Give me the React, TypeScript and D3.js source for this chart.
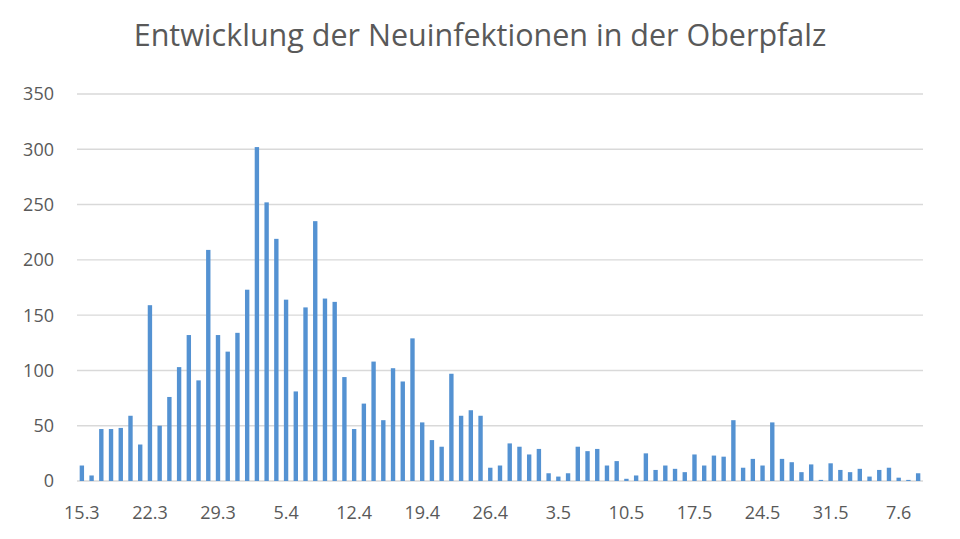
import React, { useRef, useEffect } from "react";
import * as d3 from "d3";

const title = "Entwicklung der Neuinfektionen in der Oberpfalz";

// one category per day, 15.3 to 9.6
const days = [
  "15.3", "16.3", "17.3", "18.3", "19.3", "20.3", "21.3", "22.3", "23.3", "24.3",
  "25.3", "26.3", "27.3", "28.3", "29.3", "30.3", "31.3",
  "1.4", "2.4", "3.4", "4.4", "5.4", "6.4", "7.4", "8.4", "9.4", "10.4",
  "11.4", "12.4", "13.4", "14.4", "15.4", "16.4", "17.4", "18.4", "19.4", "20.4",
  "21.4", "22.4", "23.4", "24.4", "25.4", "26.4", "27.4", "28.4", "29.4", "30.4",
  "1.5", "2.5", "3.5", "4.5", "5.5", "6.5", "7.5", "8.5", "9.5", "10.5",
  "11.5", "12.5", "13.5", "14.5", "15.5", "16.5", "17.5", "18.5", "19.5", "20.5",
  "21.5", "22.5", "23.5", "24.5", "25.5", "26.5", "27.5", "28.5", "29.5", "30.5", "31.5",
  "1.6", "2.6", "3.6", "4.6", "5.6", "6.6", "7.6", "8.6", "9.6",
];

const newCases = [
  14, 5, 47, 47, 48, 59, 33, 159, 50, 76, 103, 132, 91, 209, 132, 117, 134,
  173, 302, 252, 219, 164, 81, 157, 235, 165, 162, 94, 47, 70, 108, 55, 102, 90,
  129, 53, 37, 31, 97, 59, 64, 59, 12, 14, 34, 31, 24,
  29, 7, 4, 7, 31, 27, 29, 14, 18, 2, 5, 25, 10, 14, 11, 8, 24, 14, 23, 22, 55,
  12, 20, 14, 53, 20, 17, 8, 15, 1, 16,
  10, 8, 11, 4, 10, 12, 3, 1, 7,
];

const xTickLabels = [
  "15.3", "22.3", "29.3", "5.4", "12.4", "19.4", "26.4",
  "3.5", "10.5", "17.5", "24.5", "31.5", "7.6",
];

const yTicks = [0, 50, 100, 150, 200, 250, 300, 350];

const W = 960;
const H = 539;
const textColor = "#595959";
const font = "'Open Sans', 'Noto Sans', sans-serif";

const App: React.FC = () => {
  const svgRef = useRef<SVGSVGElement | null>(null);

  useEffect(() => {
    if (!svgRef.current) return;
    const svg = d3.select(svgRef.current);
    svg.selectAll("*").remove();

    const x = d3
      .scaleBand()
      .domain(days)
      .range([77, 923])
      .paddingInner(0.55)
      .paddingOuter(0.275);
    const y = d3.scaleLinear().domain([0, 350]).range([481, 94]);

    svg.append("rect").attr("width", W).attr("height", H).attr("fill", "#fff");

    svg
      .append("text")
      .attr("x", 480)
      .attr("y", 46)
      .attr("text-anchor", "middle")
      .attr("fill", textColor)
      .style("font-family", font)
      .style("font-size", "30.5px")
      .text(title);

    // gridlines
    svg
      .selectAll(".grid")
      .data(yTicks)
      .enter()
      .append("line")
      .attr("x1", 77)
      .attr("x2", 923)
      .attr("y1", (d) => y(d))
      .attr("y2", (d) => y(d))
      .attr("stroke", "#d9d9d9")
      .attr("stroke-width", 1.4);

    svg
      .selectAll(".ylab")
      .data(yTicks)
      .enter()
      .append("text")
      .attr("x", 54)
      .attr("y", (d) => y(d))
      .attr("dy", "0.36em")
      .attr("text-anchor", "end")
      .attr("fill", textColor)
      .style("font-family", font)
      .style("font-size", "18px")
      .text((d) => d);

    svg
      .selectAll(".bar")
      .data(newCases)
      .enter()
      .append("rect")
      .attr("x", (_, i) => x(days[i])!)
      .attr("y", (d) => y(d))
      .attr("width", x.bandwidth())
      .attr("height", (d) => y(0) - y(d))
      .attr("fill", "#5492d2");

    svg
      .selectAll(".xlab")
      .data(xTickLabels)
      .enter()
      .append("text")
      .attr("x", (d) => x(d)! + x.bandwidth() / 2)
      .attr("y", 519)
      .attr("text-anchor", "middle")
      .attr("fill", textColor)
      .style("font-family", font)
      .style("font-size", "18px")
      .text((d) => d);
  }, []);

  return (
    <svg
      ref={svgRef}
      width={W}
      height={H}
      style={{ position: "absolute", left: 0, top: 0 }}
    ></svg>
  );
};

export default App;
